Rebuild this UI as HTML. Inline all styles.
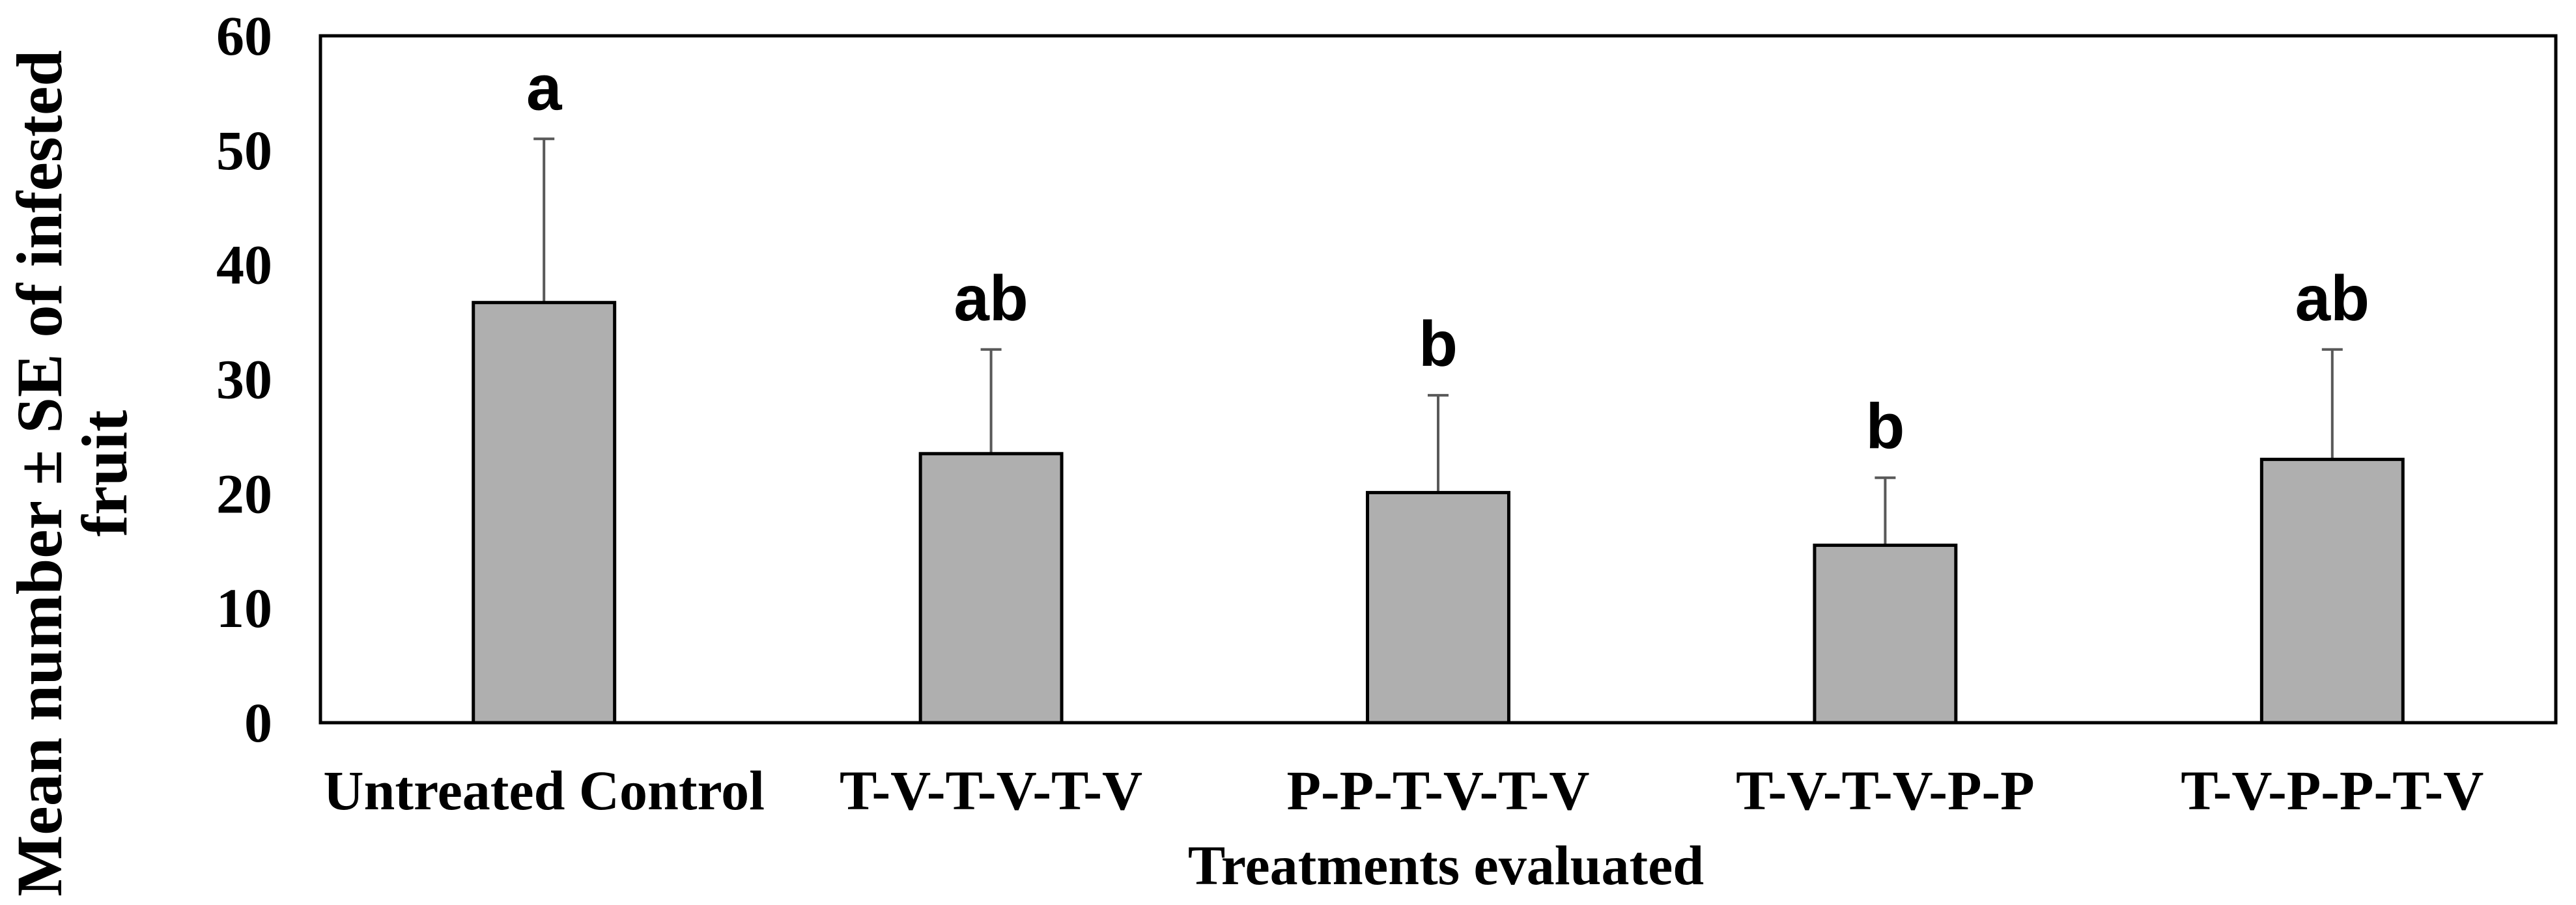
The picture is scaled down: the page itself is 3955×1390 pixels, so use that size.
<!DOCTYPE html>
<html><head><meta charset="utf-8"><style>
html,body{margin:0;padding:0;background:#fff;}
svg{display:block;}
</style></head><body>
<svg id="chart" width="3955" height="1390" viewBox="0 0 3955 1390" xmlns="http://www.w3.org/2000/svg">
<g id="yticks"></g>
<g id="bars"></g>
<rect x="492" y="55" width="3432" height="1055" fill="none" stroke="#000" stroke-width="5"/>
<g id="xlabels"></g>
<text x="2220" y="1358" text-anchor="middle" font-family="Liberation Serif, serif" font-weight="bold" font-size="86">Treatments evaluated</text>
<g transform="translate(0,727) rotate(-90)">
<text x="0" y="94" text-anchor="middle" font-family="Liberation Serif, serif" font-weight="bold" font-size="100" textLength="1300" lengthAdjust="spacingAndGlyphs">Mean number ± SE of infested</text>
<text x="0" y="194" text-anchor="middle" font-family="Liberation Serif, serif" font-weight="bold" font-size="100">fruit</text>
</g>
</svg>
<script>
const categories = ["Untreated Control","T-V-T-V-T-V","P-P-T-V-T-V","T-V-T-V-P-P","T-V-P-P-T-V"];
const means = [36.7, 23.5, 20.1, 15.5, 23.0];
const errors = [14.3, 9.1, 8.5, 5.9, 9.6];
const letters = ["a","ab","b","b","ab"];
const yTicks = [0,10,20,30,40,50,60];

const NS = "http://www.w3.org/2000/svg";
const L=492, R=3924, T=55, B=1110, YMAX=60;
const y = v => B - (v/YMAX)*(B-T);
const band = (R-L)/categories.length;
const xc = i => L + band*(i+0.5);
const bw = band*0.316;
function mk(tag, attrs, parent){const e=document.createElementNS(NS,tag);for(const k in attrs)e.setAttribute(k,attrs[k]);parent.appendChild(e);return e;}
const gy=document.getElementById('yticks'), gb=document.getElementById('bars'), gx=document.getElementById('xlabels');
yTicks.forEach(t=>{
  const e=mk('text',{x:418,y:y(t)+29,'text-anchor':'end','font-family':'Liberation Serif, serif','font-weight':'bold','font-size':86},gy);
  
  
  e.textContent=t;
});
categories.forEach((c,i)=>{
  const top=y(means[i]+errors[i]);
  const eb=mk('line',{x1:xc(i),x2:xc(i),y1:y(means[i]),y2:top,stroke:'#595959','stroke-width':4},gb);
  
  
  const cap=mk('line',{x1:xc(i)-16,x2:xc(i)+16,y1:top,y2:top,stroke:'#595959','stroke-width':4},gb);
  
  
  const r=mk('rect',{x:xc(i)-bw/2,y:y(means[i]),width:bw,height:B-y(means[i]),fill:'#afafaf',stroke:'#000','stroke-width':5},gb);
  
  
  const lt=mk('text',{x:xc(i),y:top-45,'text-anchor':'middle','font-family':'Liberation Sans, sans-serif','font-weight':'bold','font-size':98},gb);
  
  
  lt.textContent=letters[i];
  const xl=mk('text',{x:xc(i),y:1243,'text-anchor':'middle','font-family':'Liberation Serif, serif','font-weight':'bold','font-size':86},gx);
  
  
  xl.textContent=c;
});
</script>
</body></html>
